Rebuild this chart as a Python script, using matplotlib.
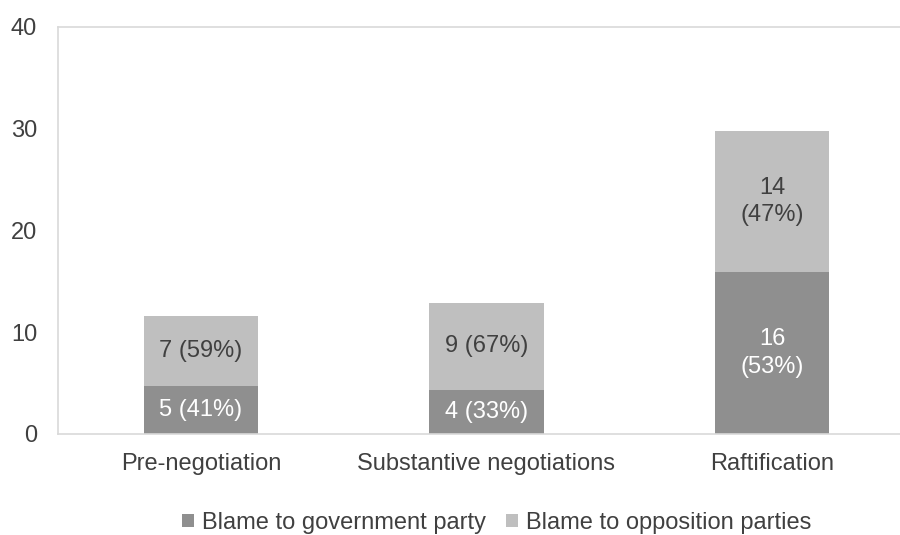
import numpy as np
import matplotlib
matplotlib.use("Agg")
import matplotlib.pyplot as plt
from matplotlib.patches import Patch

plt.rcParams['font.family'] = ['Liberation Sans', 'DejaVu Sans']

# DATA
phases = ["Pre-negotiation", "Substantive negotiations", "Raftification"]
gov_blame = [4.7, 4.3, 15.9]
opp_blame = [6.9, 8.6, 13.9]
gov_labels = ["5 (41%)", "4 (33%)", "16\n(53%)"]
opp_labels = ["7 (59%)", "9 (67%)", "14\n(47%)"]
series_names = ["Blame to government party", "Blame to opposition parties"]

gov_color = '#8f8f8f'
opp_color = '#bfbfbf'
text_color = '#404040'
frame_color = '#d9d9d9'
fs = 17

W, H = 900, 535
fig = plt.figure(figsize=(9, 5.35), dpi=100)
ax = fig.add_axes([58 / W, (H - 434) / H, 857 / W, 407 / H])

x = np.arange(len(phases))
bar_w = 0.40
ax.bar(x, gov_blame, bar_w, color=gov_color)
ax.bar(x, opp_blame, bar_w, bottom=gov_blame, color=opp_color)

# segment labels
for i in range(len(phases)):
    ax.text(x[i], gov_blame[i] / 2, gov_labels[i], ha='center', va='center',
            color='white', fontsize=fs, linespacing=1.35)
    ax.text(x[i], gov_blame[i] + opp_blame[i] / 2, opp_labels[i], ha='center', va='center',
            color=text_color, fontsize=fs, linespacing=1.35)

ax.set_xlim(-0.5, len(phases) - 0.5)
ax.set_ylim(0, 40)
ax.set_yticks([0, 10, 20, 30, 40])
ax.set_xticks(x)
ax.set_xticklabels(phases)
ax.tick_params(length=0, labelsize=fs, labelcolor=text_color)
ax.tick_params(axis='y', pad=15)
ax.tick_params(axis='x', pad=14)

for side in ['left', 'top', 'bottom', 'right']:
    ax.spines[side].set_color(frame_color)
    ax.spines[side].set_linewidth(1.2)

handles = [Patch(facecolor=gov_color), Patch(facecolor=opp_color)]
fig.legend(handles, series_names, loc='center', bbox_to_anchor=(497 / W, (H - 523) / H),
           ncol=2, frameon=False, fontsize=fs, handlelength=0.5, handleheight=0.5,
           handletextpad=0.35, columnspacing=0.85, labelcolor=text_color)

fig.savefig("out.png", dpi=100)
